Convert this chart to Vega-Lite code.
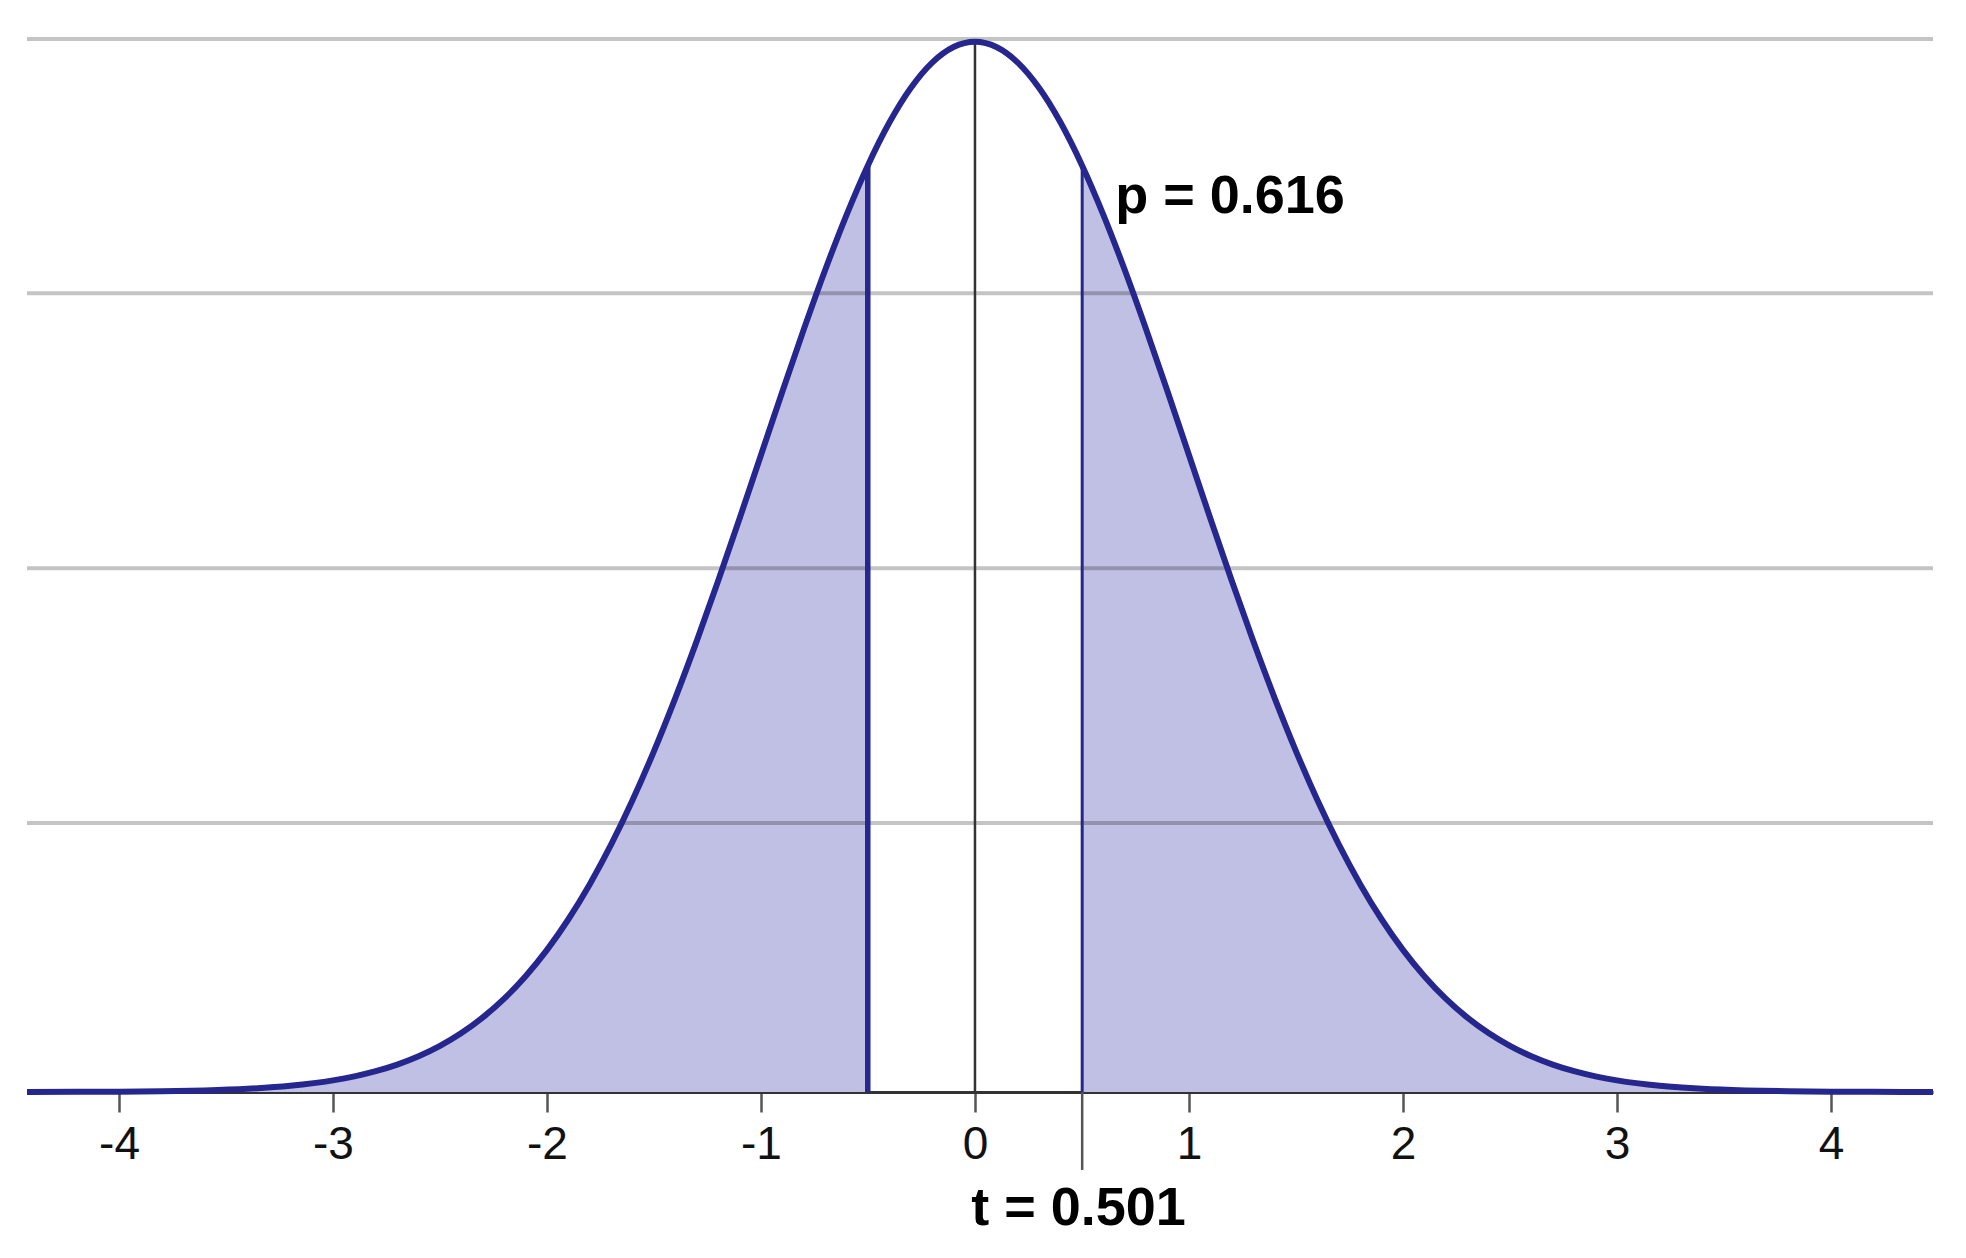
{
  "$schema": "https://vega.github.io/schema/vega-lite/v6.json",
  "autosize": {"type": "none"},
  "padding": {"left": 27, "top": 39, "right": 33, "bottom": 166},
  "width": 1906,
  "height": 1053,
  "background": "white",
  "view": {"stroke": null},
  "config": {"font": "Liberation Sans"},
  "datasets": {
    "curve": [
      {"t": -4.43, "density": 0.00002, "tail": "left"},
      {"t": -4.2, "density": 0.00006, "tail": "left"},
      {"t": -4.0, "density": 0.00013, "tail": "left"},
      {"t": -3.8, "density": 0.00029, "tail": "left"},
      {"t": -3.6, "density": 0.00061, "tail": "left"},
      {"t": -3.4, "density": 0.00123, "tail": "left"},
      {"t": -3.2, "density": 0.00238, "tail": "left"},
      {"t": -3.0, "density": 0.00443, "tail": "left"},
      {"t": -2.9, "density": 0.00595, "tail": "left"},
      {"t": -2.8, "density": 0.00792, "tail": "left"},
      {"t": -2.7, "density": 0.01042, "tail": "left"},
      {"t": -2.6, "density": 0.01358, "tail": "left"},
      {"t": -2.5, "density": 0.01753, "tail": "left"},
      {"t": -2.4, "density": 0.02239, "tail": "left"},
      {"t": -2.3, "density": 0.02833, "tail": "left"},
      {"t": -2.2, "density": 0.03547, "tail": "left"},
      {"t": -2.1, "density": 0.04398, "tail": "left"},
      {"t": -2.0, "density": 0.05399, "tail": "left"},
      {"t": -1.9, "density": 0.06562, "tail": "left"},
      {"t": -1.8, "density": 0.07895, "tail": "left"},
      {"t": -1.7, "density": 0.09405, "tail": "left"},
      {"t": -1.6, "density": 0.11092, "tail": "left"},
      {"t": -1.5, "density": 0.12952, "tail": "left"},
      {"t": -1.4, "density": 0.14973, "tail": "left"},
      {"t": -1.3, "density": 0.17137, "tail": "left"},
      {"t": -1.2, "density": 0.19419, "tail": "left"},
      {"t": -1.1, "density": 0.21785, "tail": "left"},
      {"t": -1.0, "density": 0.24197, "tail": "left"},
      {"t": -0.9, "density": 0.26609, "tail": "left"},
      {"t": -0.8, "density": 0.28969, "tail": "left"},
      {"t": -0.7, "density": 0.31225, "tail": "left"},
      {"t": -0.6, "density": 0.33322, "tail": "left"},
      {"t": -0.501, "density": 0.35189, "tail": "left"},
      {"t": -0.4, "density": 0.36827, "tail": "center"},
      {"t": -0.3, "density": 0.38139, "tail": "center"},
      {"t": -0.2, "density": 0.39104, "tail": "center"},
      {"t": -0.1, "density": 0.39695, "tail": "center"},
      {"t": 0.0, "density": 0.39894, "tail": "center"},
      {"t": 0.1, "density": 0.39695, "tail": "center"},
      {"t": 0.2, "density": 0.39104, "tail": "center"},
      {"t": 0.3, "density": 0.38139, "tail": "center"},
      {"t": 0.4, "density": 0.36827, "tail": "center"},
      {"t": 0.501, "density": 0.35189, "tail": "right"},
      {"t": 0.6, "density": 0.33322, "tail": "right"},
      {"t": 0.7, "density": 0.31225, "tail": "right"},
      {"t": 0.8, "density": 0.28969, "tail": "right"},
      {"t": 0.9, "density": 0.26609, "tail": "right"},
      {"t": 1.0, "density": 0.24197, "tail": "right"},
      {"t": 1.1, "density": 0.21785, "tail": "right"},
      {"t": 1.2, "density": 0.19419, "tail": "right"},
      {"t": 1.3, "density": 0.17137, "tail": "right"},
      {"t": 1.4, "density": 0.14973, "tail": "right"},
      {"t": 1.5, "density": 0.12952, "tail": "right"},
      {"t": 1.6, "density": 0.11092, "tail": "right"},
      {"t": 1.7, "density": 0.09405, "tail": "right"},
      {"t": 1.8, "density": 0.07895, "tail": "right"},
      {"t": 1.9, "density": 0.06562, "tail": "right"},
      {"t": 2.0, "density": 0.05399, "tail": "right"},
      {"t": 2.1, "density": 0.04398, "tail": "right"},
      {"t": 2.2, "density": 0.03547, "tail": "right"},
      {"t": 2.3, "density": 0.02833, "tail": "right"},
      {"t": 2.4, "density": 0.02239, "tail": "right"},
      {"t": 2.5, "density": 0.01753, "tail": "right"},
      {"t": 2.6, "density": 0.01358, "tail": "right"},
      {"t": 2.7, "density": 0.01042, "tail": "right"},
      {"t": 2.8, "density": 0.00792, "tail": "right"},
      {"t": 2.9, "density": 0.00595, "tail": "right"},
      {"t": 3.0, "density": 0.00443, "tail": "right"},
      {"t": 3.2, "density": 0.00238, "tail": "right"},
      {"t": 3.4, "density": 0.00123, "tail": "right"},
      {"t": 3.6, "density": 0.00061, "tail": "right"},
      {"t": 3.8, "density": 0.00029, "tail": "right"},
      {"t": 4.0, "density": 0.00013, "tail": "right"},
      {"t": 4.2, "density": 0.00006, "tail": "right"},
      {"t": 4.477, "density": 0.00002, "tail": "right"}
    ],
    "grid": [
      {"level": 0.1022},
      {"level": 0.199},
      {"level": 0.3034},
      {"level": 0.4}
    ],
    "markers": [
      {"t": -0.501, "bottom": 0, "top": 0.35189, "kind": "left"},
      {"t": 0.501, "bottom": 0, "top": 0.35189, "kind": "right"},
      {"t": 0, "bottom": 0, "top": 0.39894, "kind": "center"},
      {"t": 0.501, "bottom": 0, "top": -0.0296, "kind": "below"}
    ],
    "labels": [
      {"t": 1.192, "y": 0.3339, "text": "p = 0.616"},
      {"t": 0.484, "y": -0.0505, "text": "t = 0.501"}
    ]
  },
  "layer": [
    {
      "data": {"name": "curve"},
      "transform": [{"filter": "datum.tail != 'center'"}],
      "mark": {"type": "area", "color": "#c0c0e4", "opacity": 1, "interpolate": "monotone"},
      "encoding": {
        "x": {"field": "t", "type": "quantitative", "scale": {"domain": [-4.43, 4.477], "nice": false, "zero": false},
          "axis": {
            "values": [-4, -3, -2, -1, 0, 1, 2, 3, 4],
            "title": null,
            "grid": false,
            "domainColor": "#333333",
            "domainWidth": 3,
            "tickColor": "#555555",
            "tickWidth": 2.5,
            "tickSize": 20,
            "labelFont": "Liberation Sans",
            "labelFontSize": 46,
            "labelColor": "#111111",
            "labelPadding": 10,
            "labelExpr": "datum.value < 0 ? '-' + abs(datum.value) : '' + datum.value"
          }
        },
        "y": {"field": "density", "type": "quantitative", "stack": null, "scale": {"domain": [0, 0.4], "nice": false}, "axis": null},
        "detail": {"field": "tail"}
      }
    },
    {
      "data": {"name": "grid"},
      "mark": {"type": "rule", "color": "#000000", "opacity": 0.23, "strokeWidth": 4},
      "encoding": {
        "y": {"field": "level", "type": "quantitative"}
      }
    },
    {
      "data": {"name": "markers"},
      "transform": [{"filter": "datum.kind == 'center'"}],
      "mark": {"type": "rule", "color": "#333333", "strokeWidth": 2.5},
      "encoding": {
        "x": {"field": "t", "type": "quantitative"},
        "y": {"field": "bottom", "type": "quantitative"},
        "y2": {"field": "top"}
      }
    },
    {
      "data": {"name": "markers"},
      "transform": [{"filter": "datum.kind == 'below'"}],
      "mark": {"type": "rule", "color": "#555555", "strokeWidth": 2.5},
      "encoding": {
        "x": {"field": "t", "type": "quantitative"},
        "y": {"field": "bottom", "type": "quantitative"},
        "y2": {"field": "top"}
      }
    },
    {
      "data": {"name": "markers"},
      "transform": [{"filter": "datum.kind == 'left'"}],
      "mark": {"type": "rule", "color": "#26268f", "strokeWidth": 5.5},
      "encoding": {
        "x": {"field": "t", "type": "quantitative"},
        "y": {"field": "bottom", "type": "quantitative"},
        "y2": {"field": "top"}
      }
    },
    {
      "data": {"name": "markers"},
      "transform": [{"filter": "datum.kind == 'right'"}],
      "mark": {"type": "rule", "color": "#26268f", "strokeWidth": 3},
      "encoding": {
        "x": {"field": "t", "type": "quantitative"},
        "y": {"field": "bottom", "type": "quantitative"},
        "y2": {"field": "top"}
      }
    },
    {
      "data": {"name": "curve"},
      "mark": {"type": "line", "color": "#26268f", "strokeWidth": 6, "interpolate": "monotone"},
      "encoding": {
        "x": {"field": "t", "type": "quantitative", "sort": null},
        "y": {"field": "density", "type": "quantitative"}
      }
    },
    {
      "data": {"name": "labels"},
      "mark": {"type": "text", "font": "Liberation Sans", "fontSize": 54, "fontWeight": "bold", "color": "#000000", "align": "center", "baseline": "alphabetic"},
      "encoding": {
        "x": {"field": "t", "type": "quantitative"},
        "y": {"field": "y", "type": "quantitative"},
        "text": {"field": "text"}
      }
    }
  ]
}
